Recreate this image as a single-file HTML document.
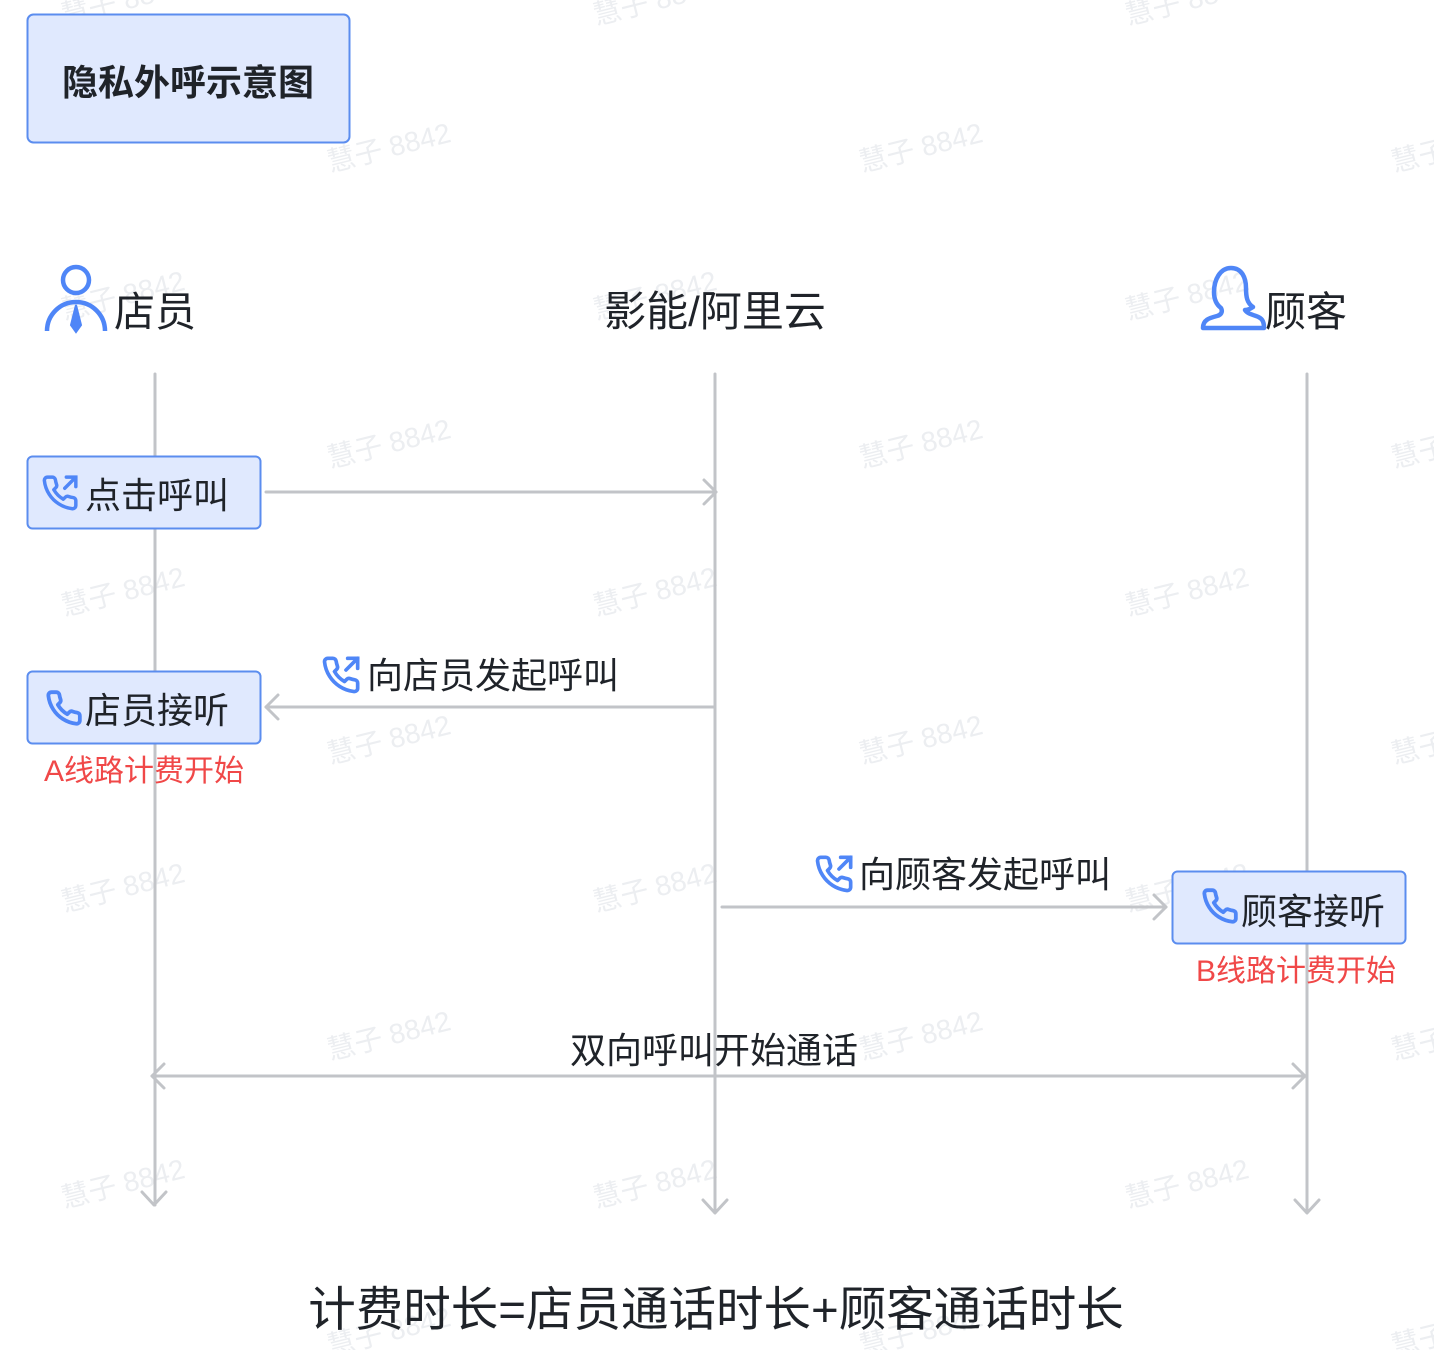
<!DOCTYPE html>
<html><head><meta charset="utf-8"><style>
html,body{margin:0;padding:0;background:#fff;}
svg{display:block;}
text{font-family:"Liberation Sans","Noto Sans CJK SC",sans-serif;}
</style></head><body>
<svg width="1434" height="1350" viewBox="0 0 1434 1350" xmlns="http://www.w3.org/2000/svg">
<defs>
<symbol id="ph" viewBox="0 0 24 24"><path d="M22 16.92v3a2 2 0 0 1-2.18 2 19.79 19.79 0 0 1-8.63-3.07 19.5 19.5 0 0 1-6-6 19.79 19.79 0 0 1-3.070-8.67A2 2 0 0 1 4.11 2h3a2 2 0 0 1 2 1.72c.13.96.36 1.9.7 2.81a2 2 0 0 1-.45 2.11L8.09 9.91a16 16 0 0 0 6 6l1.27-1.270a2 2 0 0 1 2.11-.45c.91.34 1.85.57 2.81.7A2 2 0 0 1 22 16.92z" fill="none" stroke="#4f86f7" stroke-width="2.4" stroke-linejoin="round"/></symbol>
<symbol id="pho" viewBox="0 0 24 24"><path d="M22 16.92v3a2 2 0 0 1-2.18 2 19.79 19.79 0 0 1-8.63-3.07 19.5 19.5 0 0 1-6-6 19.79 19.79 0 0 1-3.07-8.67A2 2 0 0 1 4.11 2h3a2 2 0 0 1 2 1.72c.13.96.36 1.9.7 2.81a2 2 0 0 1-.45 2.11L8.09 9.91a16 16 0 0 0 6 6l1.27-1.27a2 2 0 0 1 2.11-.45c.91.34 1.85.57 2.81.7A2 2 0 0 1 22 16.92z" fill="none" stroke="#4f86f7" stroke-width="2.2" stroke-linejoin="round"/><path d="M15 9l7-7M16 2h6v6" fill="none" stroke="#4f86f7" stroke-width="2.2" stroke-linecap="round"/></symbol>
</defs>
<g fill="#eceef1" font-size="28">
<text transform="translate(330,172) rotate(-14)">慧子 8842</text>
<text transform="translate(862,172) rotate(-14)">慧子 8842</text>
<text transform="translate(1394,172) rotate(-14)">慧子 8842</text>
<text transform="translate(596,25) rotate(-14)">慧子 8842</text>
<text transform="translate(1128,25) rotate(-14)">慧子 8842</text>
<text transform="translate(64,25) rotate(-14)">慧子 8842</text>
<text transform="translate(64,320) rotate(-14)">慧子 8842</text>
<text transform="translate(596,320) rotate(-14)">慧子 8842</text>
<text transform="translate(1128,320) rotate(-14)">慧子 8842</text>
<text transform="translate(330,468) rotate(-14)">慧子 8842</text>
<text transform="translate(862,468) rotate(-14)">慧子 8842</text>
<text transform="translate(1394,468) rotate(-14)">慧子 8842</text>
<text transform="translate(64,616) rotate(-14)">慧子 8842</text>
<text transform="translate(596,616) rotate(-14)">慧子 8842</text>
<text transform="translate(1128,616) rotate(-14)">慧子 8842</text>
<text transform="translate(330,764) rotate(-14)">慧子 8842</text>
<text transform="translate(862,764) rotate(-14)">慧子 8842</text>
<text transform="translate(1394,764) rotate(-14)">慧子 8842</text>
<text transform="translate(64,912) rotate(-14)">慧子 8842</text>
<text transform="translate(596,912) rotate(-14)">慧子 8842</text>
<text transform="translate(1128,912) rotate(-14)">慧子 8842</text>
<text transform="translate(330,1060) rotate(-14)">慧子 8842</text>
<text transform="translate(862,1060) rotate(-14)">慧子 8842</text>
<text transform="translate(1394,1060) rotate(-14)">慧子 8842</text>
<text transform="translate(64,1208) rotate(-14)">慧子 8842</text>
<text transform="translate(596,1208) rotate(-14)">慧子 8842</text>
<text transform="translate(1128,1208) rotate(-14)">慧子 8842</text>
<text transform="translate(330,1356) rotate(-14)">慧子 8842</text>
<text transform="translate(862,1356) rotate(-14)">慧子 8842</text>
<text transform="translate(1394,1356) rotate(-14)">慧子 8842</text>
</g>

<rect x="27.5" y="14.5" width="322" height="128" rx="6" fill="#e0e9fe" stroke="#5b8def" stroke-width="2"/>
<text x="188" y="95" font-size="36" font-weight="bold" fill="#1f2329" text-anchor="middle">隐私外呼示意图</text>

<g fill="none" stroke="#4f86f7" stroke-width="4.5">
<circle cx="76" cy="280" r="13"/>
<path d="M47 331 A29 29 0 0 1 105 331"/>
<path d="M76 305 l-5 20 l5 7 l5 -7 z" fill="#4f86f7" stroke-width="2"/>
<path d="M1203 328 c0-8 6-10 14-12 c4-1 6-4 4-8 c-4-3-7-8-7-16 c0-12 6-24 17-24 c11 0 15 10 15 20 c0 9 1 15 7 19 c-3 2-6 3-8 3 c2 3 5 4 11 6 c6 2 8 5 8 12 z" stroke-linejoin="round"/>
</g>
<text x="114" y="326" font-size="41" fill="#1f2329">店员</text>
<text x="715" y="326" font-size="42" fill="#1f2329" text-anchor="middle">影能/阿里云</text>
<text x="1265" y="326" font-size="41" fill="#1f2329">顾客</text>

<g stroke="#c2c4c8" stroke-width="3" fill="none" stroke-linecap="round" stroke-linejoin="round">
<line x1="155" y1="374" x2="155" y2="1205"/>
<line x1="715" y1="374" x2="715" y2="1212"/>
<line x1="1307" y1="374" x2="1307" y2="1212"/>
<path d="M142 1192 L154 1205 L166 1192"/>
<path d="M703 1200 L715 1213 L727 1200"/>
<path d="M1295 1200 L1307 1213 L1319 1200"/>
<line x1="266" y1="492" x2="716" y2="492"/>
<path d="M704 480 L716 492 L704 504"/>
<line x1="714" y1="707" x2="266" y2="707"/>
<path d="M278 695 L266 707 L278 719"/>
<line x1="722" y1="907" x2="1166" y2="907"/>
<path d="M1154 895 L1166 907 L1154 919"/>
<line x1="152" y1="1076" x2="1305" y2="1076"/>
<path d="M164 1064 L152 1076 L164 1088"/>
<path d="M1293 1064 L1305 1076 L1293 1088"/>
</g>

<rect x="27.5" y="456.5" width="233" height="72" rx="5" fill="#e0e9fe" stroke="#5b8def" stroke-width="2"/>
<use href="#pho" x="41" y="474" width="38" height="38"/>
<text x="85" y="508" font-size="36" fill="#1f2329">点击呼叫</text>

<rect x="27.5" y="671.5" width="233" height="72" rx="5" fill="#e0e9fe" stroke="#5b8def" stroke-width="2"/>
<use href="#ph" x="45" y="689" width="38" height="38"/>
<text x="85" y="723" font-size="36" fill="#1f2329">店员接听</text>
<text x="44" y="781" font-size="30" fill="#f04848">A线路计费开始</text>

<use href="#pho" x="321" y="655" width="40" height="40"/>
<text x="367" y="688" font-size="36" fill="#1f2329">向店员发起呼叫</text>

<use href="#pho" x="814" y="854" width="40" height="40"/>
<text x="859" y="887" font-size="36" fill="#1f2329">向顾客发起呼叫</text>

<rect x="1172.5" y="871.5" width="233" height="72" rx="5" fill="#e0e9fe" stroke="#5b8def" stroke-width="2"/>
<use href="#ph" x="1201" y="887" width="38" height="38"/>
<text x="1241" y="924" font-size="36" fill="#1f2329">顾客接听</text>
<text x="1196" y="981" font-size="30" fill="#f04848">B线路计费开始</text>

<text x="714" y="1063" font-size="36" fill="#1f2329" text-anchor="middle">双向呼叫开始通话</text>

<text x="716" y="1326" font-size="47.5" fill="#1f2329" text-anchor="middle">计费时长=店员通话时长+顾客通话时长</text>
</svg>
</body></html>
